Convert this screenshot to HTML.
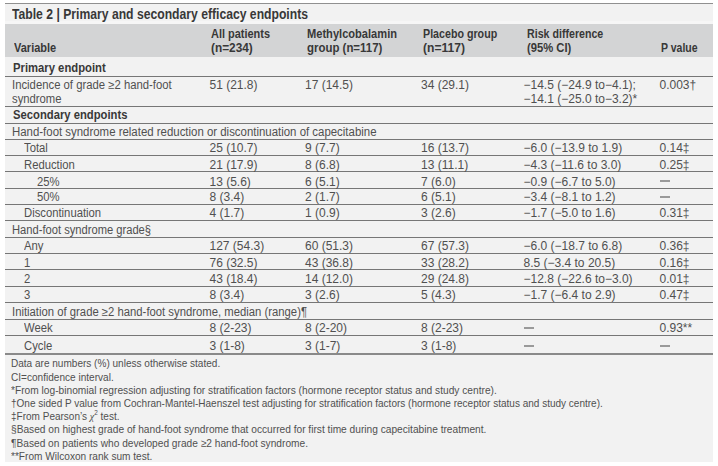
<!DOCTYPE html>
<html><head><meta charset="utf-8"><style>
html,body{margin:0;padding:0;background:#ffffff;width:718px;height:466px;overflow:hidden;position:relative}
div{position:absolute}
.t{font-family:'Liberation Sans', sans-serif;white-space:nowrap;line-height:1;transform-origin:0 0}
sup{font-size:7px;vertical-align:5px;line-height:0}
</style></head><body>
<div style="left:5px;top:3px;width:708px;height:1px;background:#909090"></div>
<div style="left:5px;top:4px;width:708px;height:17px;background:#f2f2f2"></div>
<div style="left:5px;top:21px;width:708px;height:3px;background:#f6f6f6"></div>
<div style="left:5px;top:24px;width:708px;height:33px;background:#d3d4d5"></div>
<div style="left:5px;top:57px;width:708px;height:405px;background:#f2f2f2"></div>
<div style="left:5px;top:76px;width:708px;height:1px;background:#767676"></div>
<div style="left:5px;top:106px;width:708px;height:1px;background:#767676"></div>
<div style="left:5px;top:123px;width:708px;height:1px;background:#767676"></div>
<div style="left:5px;top:139px;width:708px;height:1px;background:#767676"></div>
<div style="left:5px;top:155px;width:708px;height:1px;background:#767676"></div>
<div style="left:5px;top:171px;width:708px;height:1px;background:#767676"></div>
<div style="left:5px;top:188px;width:708px;height:1px;background:#767676"></div>
<div style="left:5px;top:204px;width:708px;height:1px;background:#767676"></div>
<div style="left:5px;top:220px;width:708px;height:1px;background:#767676"></div>
<div style="left:5px;top:237px;width:708px;height:1px;background:#767676"></div>
<div style="left:5px;top:253px;width:708px;height:1px;background:#767676"></div>
<div style="left:5px;top:269px;width:708px;height:1px;background:#767676"></div>
<div style="left:5px;top:286px;width:708px;height:1px;background:#767676"></div>
<div style="left:5px;top:302px;width:708px;height:1px;background:#767676"></div>
<div style="left:5px;top:319px;width:708px;height:1px;background:#767676"></div>
<div style="left:5px;top:335px;width:708px;height:1px;background:#767676"></div>
<div style="left:5px;top:353px;width:708px;height:2px;background:#8a8a8a"></div>
<div style="left:660.0px;top:180px;width:10px;height:2px;background:#9a9a9a"></div>
<div style="left:660.0px;top:196px;width:10px;height:2px;background:#9a9a9a"></div>
<div style="left:523.5px;top:327px;width:10px;height:2px;background:#9a9a9a"></div>
<div style="left:523.5px;top:344.5px;width:10px;height:2px;background:#9a9a9a"></div>
<div style="left:660.0px;top:344.5px;width:10px;height:2px;background:#9a9a9a"></div>
<div class="t" style="left:12.2px;top:7.00px;font-size:14px;font-weight:bold;color:#383838;transform:scaleX(0.8692);">Table 2 | Primary and secondary efficacy endpoints</div>
<div class="t" style="left:13.8px;top:41.63px;font-size:12.2px;font-weight:bold;color:#383838;transform:scaleX(0.9027);">Variable</div>
<div class="t" style="left:211.3px;top:27.63px;font-size:12.2px;font-weight:bold;color:#383838;transform:scaleX(0.8982);">All patients</div>
<div class="t" style="left:211.3px;top:41.63px;font-size:12.2px;font-weight:bold;color:#383838;transform:scaleX(0.9717);">(n=234)</div>
<div class="t" style="left:307px;top:27.63px;font-size:12.2px;font-weight:bold;color:#383838;transform:scaleX(0.9102);">Methylcobalamin</div>
<div class="t" style="left:307px;top:41.63px;font-size:12.2px;font-weight:bold;color:#383838;transform:scaleX(0.9383);">group (n=117)</div>
<div class="t" style="left:422.9px;top:27.63px;font-size:12.2px;font-weight:bold;color:#383838;transform:scaleX(0.8765);">Placebo group</div>
<div class="t" style="left:422.9px;top:41.63px;font-size:12.2px;font-weight:bold;color:#383838;transform:scaleX(0.9919);">(n=117)</div>
<div class="t" style="left:526.7px;top:27.63px;font-size:12.2px;font-weight:bold;color:#383838;transform:scaleX(0.8731);">Risk difference</div>
<div class="t" style="left:526.7px;top:41.63px;font-size:12.2px;font-weight:bold;color:#383838;transform:scaleX(0.9211);">(95% CI)</div>
<div class="t" style="left:661px;top:41.63px;font-size:12.2px;font-weight:bold;color:#383838;transform:scaleX(0.8618);">P value</div>
<div class="t" style="left:12.5px;top:61.83px;font-size:12.2px;font-weight:bold;color:#383838;transform:scaleX(0.9248);">Primary endpoint</div>
<div class="t" style="left:12px;top:79.40px;font-size:12px;font-weight:normal;color:#505050;transform:scaleX(0.9429);">Incidence of grade ≥2 hand-foot</div>
<div class="t" style="left:12px;top:93.10px;font-size:12px;font-weight:normal;color:#505050;transform:scaleX(0.9400);">syndrome</div>
<div class="t" style="left:209.5px;top:79.40px;font-size:12px;font-weight:normal;color:#505050;">51 (21.8)</div>
<div class="t" style="left:305px;top:79.40px;font-size:12px;font-weight:normal;color:#505050;">17 (14.5)</div>
<div class="t" style="left:421px;top:79.40px;font-size:12px;font-weight:normal;color:#505050;">34 (29.1)</div>
<div class="t" style="left:523.5px;top:79.40px;font-size:12px;font-weight:normal;color:#505050;">−14.5 (−24.9 to−4.1);</div>
<div class="t" style="left:523.5px;top:93.10px;font-size:12px;font-weight:normal;color:#505050;">−14.1 (−25.0 to−3.2)*</div>
<div class="t" style="left:659.5px;top:79.40px;font-size:12px;font-weight:normal;color:#505050;">0.003†</div>
<div class="t" style="left:12.5px;top:108.83px;font-size:12.2px;font-weight:bold;color:#383838;transform:scaleX(0.9239);">Secondary endpoints</div>
<div class="t" style="left:12px;top:125.60px;font-size:12px;font-weight:normal;color:#505050;transform:scaleX(0.9519);">Hand-foot syndrome related reduction or discontinuation of capecitabine</div>
<div class="t" style="left:24px;top:141.60px;font-size:12px;font-weight:normal;color:#505050;transform:scaleX(0.9400);">Total</div>
<div class="t" style="left:209.5px;top:141.60px;font-size:12px;font-weight:normal;color:#505050;">25 (10.7)</div>
<div class="t" style="left:305px;top:141.60px;font-size:12px;font-weight:normal;color:#505050;">9 (7.7)</div>
<div class="t" style="left:421px;top:141.60px;font-size:12px;font-weight:normal;color:#505050;">16 (13.7)</div>
<div class="t" style="left:523.5px;top:141.60px;font-size:12px;font-weight:normal;color:#505050;">−6.0 (−13.9 to 1.9)</div>
<div class="t" style="left:659.5px;top:141.60px;font-size:12px;font-weight:normal;color:#505050;">0.14‡</div>
<div class="t" style="left:24px;top:158.70px;font-size:12px;font-weight:normal;color:#505050;transform:scaleX(0.9400);">Reduction</div>
<div class="t" style="left:209.5px;top:158.70px;font-size:12px;font-weight:normal;color:#505050;">21 (17.9)</div>
<div class="t" style="left:305px;top:158.70px;font-size:12px;font-weight:normal;color:#505050;">8 (6.8)</div>
<div class="t" style="left:421px;top:158.70px;font-size:12px;font-weight:normal;color:#505050;">13 (11.1)</div>
<div class="t" style="left:523.5px;top:158.70px;font-size:12px;font-weight:normal;color:#505050;">−4.3 (−11.6 to 3.0)</div>
<div class="t" style="left:659.5px;top:158.70px;font-size:12px;font-weight:normal;color:#505050;">0.25‡</div>
<div class="t" style="left:37px;top:175.70px;font-size:12px;font-weight:normal;color:#505050;transform:scaleX(0.9400);">25%</div>
<div class="t" style="left:209.5px;top:175.70px;font-size:12px;font-weight:normal;color:#505050;">13 (5.6)</div>
<div class="t" style="left:305px;top:175.70px;font-size:12px;font-weight:normal;color:#505050;">6 (5.1)</div>
<div class="t" style="left:421px;top:175.70px;font-size:12px;font-weight:normal;color:#505050;">7 (6.0)</div>
<div class="t" style="left:523.5px;top:175.70px;font-size:12px;font-weight:normal;color:#505050;">−0.9 (−6.7 to 5.0)</div>
<div class="t" style="left:37px;top:190.60px;font-size:12px;font-weight:normal;color:#505050;transform:scaleX(0.9400);">50%</div>
<div class="t" style="left:209.5px;top:190.60px;font-size:12px;font-weight:normal;color:#505050;">8 (3.4)</div>
<div class="t" style="left:305px;top:190.60px;font-size:12px;font-weight:normal;color:#505050;">2 (1.7)</div>
<div class="t" style="left:421px;top:190.60px;font-size:12px;font-weight:normal;color:#505050;">6 (5.1)</div>
<div class="t" style="left:523.5px;top:190.60px;font-size:12px;font-weight:normal;color:#505050;">−3.4 (−8.1 to 1.2)</div>
<div class="t" style="left:24px;top:206.60px;font-size:12px;font-weight:normal;color:#505050;transform:scaleX(0.9400);">Discontinuation</div>
<div class="t" style="left:209.5px;top:206.60px;font-size:12px;font-weight:normal;color:#505050;">4 (1.7)</div>
<div class="t" style="left:305px;top:206.60px;font-size:12px;font-weight:normal;color:#505050;">1 (0.9)</div>
<div class="t" style="left:421px;top:206.60px;font-size:12px;font-weight:normal;color:#505050;">3 (2.6)</div>
<div class="t" style="left:523.5px;top:206.60px;font-size:12px;font-weight:normal;color:#505050;">−1.7 (−5.0 to 1.6)</div>
<div class="t" style="left:659.5px;top:206.60px;font-size:12px;font-weight:normal;color:#505050;">0.31‡</div>
<div class="t" style="left:12px;top:223.60px;font-size:12px;font-weight:normal;color:#505050;transform:scaleX(0.9303);">Hand-foot syndrome grade§</div>
<div class="t" style="left:24px;top:239.60px;font-size:12px;font-weight:normal;color:#505050;transform:scaleX(0.9400);">Any</div>
<div class="t" style="left:209.5px;top:239.60px;font-size:12px;font-weight:normal;color:#505050;">127 (54.3)</div>
<div class="t" style="left:305px;top:239.60px;font-size:12px;font-weight:normal;color:#505050;">60 (51.3)</div>
<div class="t" style="left:421px;top:239.60px;font-size:12px;font-weight:normal;color:#505050;">67 (57.3)</div>
<div class="t" style="left:523.5px;top:239.60px;font-size:12px;font-weight:normal;color:#505050;">−6.0 (−18.7 to 6.8)</div>
<div class="t" style="left:659.5px;top:239.60px;font-size:12px;font-weight:normal;color:#505050;">0.36‡</div>
<div class="t" style="left:24px;top:256.70px;font-size:12px;font-weight:normal;color:#505050;transform:scaleX(0.9400);">1</div>
<div class="t" style="left:209.5px;top:256.70px;font-size:12px;font-weight:normal;color:#505050;">76 (32.5)</div>
<div class="t" style="left:305px;top:256.70px;font-size:12px;font-weight:normal;color:#505050;">43 (36.8)</div>
<div class="t" style="left:421px;top:256.70px;font-size:12px;font-weight:normal;color:#505050;">33 (28.2)</div>
<div class="t" style="left:523.5px;top:256.70px;font-size:12px;font-weight:normal;color:#505050;">8.5 (−3.4 to 20.5)</div>
<div class="t" style="left:659.5px;top:256.70px;font-size:12px;font-weight:normal;color:#505050;">0.16‡</div>
<div class="t" style="left:24px;top:272.60px;font-size:12px;font-weight:normal;color:#505050;transform:scaleX(0.9400);">2</div>
<div class="t" style="left:209.5px;top:272.60px;font-size:12px;font-weight:normal;color:#505050;">43 (18.4)</div>
<div class="t" style="left:305px;top:272.60px;font-size:12px;font-weight:normal;color:#505050;">14 (12.0)</div>
<div class="t" style="left:421px;top:272.60px;font-size:12px;font-weight:normal;color:#505050;">29 (24.8)</div>
<div class="t" style="left:523.5px;top:272.60px;font-size:12px;font-weight:normal;color:#505050;">−12.8 (−22.6 to−3.0)</div>
<div class="t" style="left:659.5px;top:272.60px;font-size:12px;font-weight:normal;color:#505050;">0.01‡</div>
<div class="t" style="left:24px;top:288.60px;font-size:12px;font-weight:normal;color:#505050;transform:scaleX(0.9400);">3</div>
<div class="t" style="left:209.5px;top:288.60px;font-size:12px;font-weight:normal;color:#505050;">8 (3.4)</div>
<div class="t" style="left:305px;top:288.60px;font-size:12px;font-weight:normal;color:#505050;">3 (2.6)</div>
<div class="t" style="left:421px;top:288.60px;font-size:12px;font-weight:normal;color:#505050;">5 (4.3)</div>
<div class="t" style="left:523.5px;top:288.60px;font-size:12px;font-weight:normal;color:#505050;">−1.7 (−6.4 to 2.9)</div>
<div class="t" style="left:659.5px;top:288.60px;font-size:12px;font-weight:normal;color:#505050;">0.47‡</div>
<div class="t" style="left:12px;top:305.60px;font-size:12px;font-weight:normal;color:#505050;transform:scaleX(0.9418);">Initiation of grade ≥2 hand-foot syndrome, median (range)¶</div>
<div class="t" style="left:24px;top:321.60px;font-size:12px;font-weight:normal;color:#505050;transform:scaleX(0.9400);">Week</div>
<div class="t" style="left:209.5px;top:321.60px;font-size:12px;font-weight:normal;color:#505050;">8 (2-23)</div>
<div class="t" style="left:305px;top:321.60px;font-size:12px;font-weight:normal;color:#505050;">8 (2-20)</div>
<div class="t" style="left:421px;top:321.60px;font-size:12px;font-weight:normal;color:#505050;">8 (2-23)</div>
<div class="t" style="left:659.5px;top:321.60px;font-size:12px;font-weight:normal;color:#505050;">0.93**</div>
<div class="t" style="left:24px;top:339.60px;font-size:12px;font-weight:normal;color:#505050;transform:scaleX(0.9400);">Cycle</div>
<div class="t" style="left:209.5px;top:339.60px;font-size:12px;font-weight:normal;color:#505050;">3 (1-8)</div>
<div class="t" style="left:305px;top:339.60px;font-size:12px;font-weight:normal;color:#505050;">3 (1-7)</div>
<div class="t" style="left:421px;top:339.60px;font-size:12px;font-weight:normal;color:#505050;">3 (1-8)</div>
<div class="t" style="left:11.3px;top:358.35px;font-size:11px;font-weight:normal;color:#505050;transform:scaleX(0.9124);">Data are numbers (%) unless otherwise stated.</div>
<div class="t" style="left:11.3px;top:371.55px;font-size:11px;font-weight:normal;color:#505050;transform:scaleX(0.9153);">CI=confidence interval.</div>
<div class="t" style="left:11.3px;top:384.75px;font-size:11px;font-weight:normal;color:#505050;transform:scaleX(0.9261);">*From log-binomial regression adjusting for stratification factors (hormone receptor status and study centre).</div>
<div class="t" style="left:11.3px;top:397.95px;font-size:11px;font-weight:normal;color:#505050;transform:scaleX(0.9100);">†One sided P value from Cochran-Mantel-Haenszel test adjusting for stratification factors (hormone receptor status and study centre).</div>
<div class="t" style="left:11.3px;top:411.15px;font-size:11px;font-weight:normal;color:#505050;transform:scaleX(0.9102);">‡From Pearson’s <i style="font-family:Liberation Serif">χ</i><sup>2</sup> test.</div>
<div class="t" style="left:11.3px;top:424.35px;font-size:11px;font-weight:normal;color:#505050;transform:scaleX(0.9245);">§Based on highest grade of hand-foot syndrome that occurred for first time during capecitabine treatment.</div>
<div class="t" style="left:11.3px;top:437.55px;font-size:11px;font-weight:normal;color:#505050;transform:scaleX(0.9241);">¶Based on patients who developed grade ≥2 hand-foot syndrome.</div>
<div class="t" style="left:11.3px;top:450.75px;font-size:11px;font-weight:normal;color:#505050;transform:scaleX(0.9179);">**From Wilcoxon rank sum test.</div>
</body></html>
